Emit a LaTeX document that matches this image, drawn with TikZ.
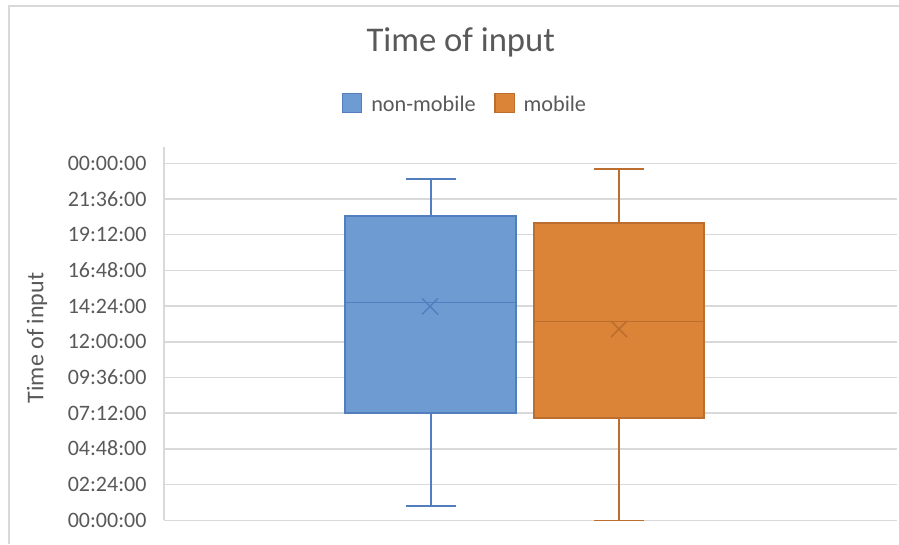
\documentclass[tikz,border=0pt]{standalone}
\usepackage{fontspec}
\setmainfont{Carlito}
\definecolor{txt}{HTML}{595959}
\definecolor{gridc}{HTML}{D9D9D9}
\definecolor{bluefill}{RGB}{110,155,209}
\definecolor{blueline}{RGB}{82,126,190}
\definecolor{orgfill}{RGB}{219,132,56}
\definecolor{orgline}{RGB}{188,110,46}
\tikzset{
  frameline/.style={draw=gridc, line width=1.1pt},
  gridline/.style={draw=gridc, line width=1.1pt},
  ticklabel/.style={anchor=base east, inner sep=0pt, text=txt, font=\fontsize{16.5pt}{18pt}\selectfont},
  legendtext/.style={anchor=base west, inner sep=0pt, text=txt, font=\fontsize{16.7pt}{18pt}\selectfont},
  boxblue/.style={fill=bluefill, draw=blueline, line width=1.3pt},
  boxorange/.style={fill=orgfill, draw=orgline, line width=1.3pt},
  whisk/.style={line width=1.4pt},
  meanmark/.style={line width=1.1pt}
}
\begin{document}
\begin{tikzpicture}[x=0.75pt, y=-0.75pt]
\useasboundingbox (0,0) rectangle (899,544);

% chart frame (top and left edges)
\draw[frameline] (9,544) -- (9,6) -- (899,6);

% horizontal gridlines and the value axis
\foreach \i in {0,...,10} {
  \draw[gridline] (164,163.3+\i*35.7) -- (896.7,163.3+\i*35.7);
}
\draw[gridline] (164,147) -- (164,520.3);

% tick labels
\foreach \lab [count=\k from 0] in {00:00:00,21:36:00,19:12:00,16:48:00,14:24:00,12:00:00,09:36:00,07:12:00,04:48:00,02:24:00,00:00:00} {
  \node[ticklabel] (tick\k) at (146.7,170.3+\k*35.7) {\lab};
}

% title and axis title
\node[anchor=base, inner sep=0pt, text=txt, font=\fontsize{26pt}{30pt}\selectfont] (title) at (460.8,51.7) {Time of input};
\node[anchor=base, inner sep=0pt, text=txt, rotate=90, font=\fontsize{18pt}{20pt}\selectfont] (ytitle) at (43.3,338) {Time of input};

% legend
\node[boxblue, minimum size=19.4*0.75pt, inner sep=0pt, line width=1pt] (legblue) at (352,103) {};
\node[legendtext] (legbluetxt) at (371,111) {non-mobile};
\node[boxorange, minimum size=19.4*0.75pt, inner sep=0pt, line width=1pt] (legorg) at (504.7,103) {};
\node[legendtext] (legorgtxt) at (523.3,111) {mobile};

% non-mobile box plot
\coordinate (bq3) at (430.7,216);
\coordinate (bq1) at (430.7,412.7);
\coordinate (bmax) at (430.7,179);
\coordinate (bmin) at (430.7,506);
\draw[blueline, whisk] (bmax) -- (bq3);
\draw[blueline, whisk] (bq1) -- (bmin);
\draw[blueline, whisk] ([xshift=-25.2*0.75pt]bmax) -- ([xshift=25.2*0.75pt]bmax);
\draw[blueline, whisk] ([xshift=-25.2*0.75pt]bmin) -- ([xshift=25.2*0.75pt]bmin);
\draw[boxblue] (345,216) rectangle (515.7,412.7);
\draw[blueline, line width=1.1pt] (345,302.3) -- (515.7,302.3);
\draw[blueline, meanmark] (422,298.4) -- (438,314.4) (422,314.4) -- (438,298.4);

% mobile box plot
\coordinate (oq3) at (619,223.3);
\coordinate (oq1) at (619,418.3);
\coordinate (omax) at (619,169.3);
\coordinate (omin) at (619,520.5);
\draw[orgline, whisk] (omax) -- (oq3);
\draw[orgline, whisk] (oq1) -- (omin);
\draw[orgline, whisk] ([xshift=-25*0.75pt]omax) -- ([xshift=25*0.75pt]omax);
\draw[orgline, whisk] ([xshift=-25*0.75pt]omin) -- ([xshift=25*0.75pt]omin);
\draw[boxorange] (534.3,223.3) rectangle (704,418.3);
\draw[orgline, line width=1.1pt] (534.3,321.7) -- (704,321.7);
\draw[orgline, meanmark] (611,321) -- (627,337) (611,337) -- (627,321);
\end{tikzpicture}
\end{document}
